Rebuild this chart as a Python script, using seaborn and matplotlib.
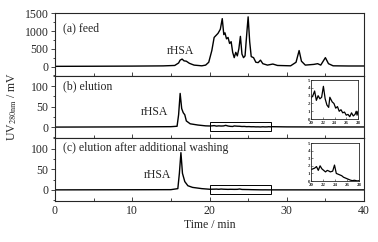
import numpy as np
import pandas as pd
import matplotlib
matplotlib.use("Agg")
import matplotlib.pyplot as plt
import seaborn as sns
from matplotlib.patches import Rectangle
from matplotlib.ticker import MultipleLocator

# (a) feed
t_feed = [0, 5, 10, 14, 15.5, 16.0, 16.2, 16.45, 16.7, 17.0, 17.4, 18, 19, 19.5, 19.9,
          20.3, 20.6, 21.1, 21.4, 21.65, 21.85, 22.0, 22.2, 22.4, 22.6, 22.8, 23.0, 23.2,
          23.4, 23.6, 23.8, 24.0, 24.2, 24.4, 24.6, 24.85, 25.0, 25.2, 25.4, 25.7, 26.0,
          26.3, 26.6, 26.9, 27.5, 28.2, 28.8, 30.5, 31.2, 31.6, 31.9, 32.4, 33.5, 34.0,
          34.4, 35.0, 35.4, 36, 38, 40]
uv_feed = [5, 8, 12, 18, 30, 100, 180, 210, 160, 150, 90, 40, 20, 40, 120,
           450, 820, 935, 1050, 1350, 900, 950, 780, 820, 650, 700, 400, 250,
           400, 300, 500, 850, 350, 250, 300, 1000, 1400, 700, 280, 250, 120,
           110, 180, 80, 40, 70, 30, 20, 120, 450, 150, 40, 60, 80,
           40, 250, 80, 20, 15, 15]

# insets, 20-28 min
t_zoom = [20.0, 20.3, 20.6, 20.9, 21.2, 21.5, 21.8, 22.1, 22.4, 22.7, 23.0, 23.2, 23.6,
          23.9, 24.2, 24.5, 24.8, 25.1, 25.4, 25.7, 26.0, 26.3, 26.6, 26.9, 27.2, 27.5,
          27.7, 27.85, 28.0]
uv_zoom_b = [2.7, 3.0, 3.6, 2.4, 3.0, 2.6, 2.8, 4.2, 2.6, 1.8, 1.5, 2.8, 2.2,
             2.0, 1.4, 1.6, 1.0, 1.2, 0.8, 0.9, 0.5, 0.6, 0.3, 0.8, 0.4, 0.6,
             1.0, 0.5, 1.0]
uv_zoom_c = [1.5, 1.6, 1.7, 1.9, 1.4, 2.0, 1.6, 1.4, 1.2, 1.4, 1.3, 1.2, 1.3,
             2.1, 1.0, 0.9, 0.8, 0.7, 0.5, 0.4, 0.3, 0.2, 0.1, 0.05, 0.1, 0.05,
             0.0, 0.05, 0.0]

# (b) elution / (c) elution after additional washing, outside the inset range
t_b_pre = [0, 10, 15, 15.8, 16.0, 16.2, 16.4, 16.6, 16.8, 17.0, 17.5, 18.5, 19.5]
uv_b_pre = [0, 0.5, 1, 2, 30, 82, 45, 35, 30, 15, 8, 5, 3]
t_c_pre = [0, 10, 15, 15.9, 16.1, 16.3, 16.5, 16.8, 17.2, 17.8, 19]
uv_c_pre = [0, 0.3, 0.5, 3, 40, 90, 40, 20, 10, 6, 3]
t_post = [30, 35, 40]
uv_b_post = [0.5, 0.3, 0.3]
uv_c_post = [0, 0, 0]

feed = pd.DataFrame({"t": t_feed, "uv": uv_feed})
elu_b = pd.DataFrame({"t": t_b_pre + t_zoom + t_post, "uv": uv_b_pre + uv_zoom_b + uv_b_post})
elu_c = pd.DataFrame({"t": t_c_pre + t_zoom + t_post, "uv": uv_c_pre + uv_zoom_c + uv_c_post})
zoom_b = pd.DataFrame({"t": t_zoom, "uv": uv_zoom_b})
zoom_c = pd.DataFrame({"t": t_zoom, "uv": uv_zoom_c})

sns.set_style("ticks")
plt.rcParams["font.family"] = ["Liberation Serif", "DejaVu Serif"]
plt.rcParams["mathtext.fontset"] = "stix"

fig = plt.figure(figsize=(3.78, 2.42), dpi=100)
gs = fig.add_gridspec(3, 1, left=0.1455, right=0.963, top=0.945, bottom=0.171, hspace=0)
axes = [fig.add_subplot(gs[i]) for i in range(3)]

lw = 1.0
sns.lineplot(data=feed, x="t", y="uv", ax=axes[0], color="black", lw=lw)
sns.lineplot(data=elu_b, x="t", y="uv", ax=axes[1], color="black", lw=lw)
sns.lineplot(data=elu_c, x="t", y="uv", ax=axes[2], color="black", lw=lw)

ylims = [(-260, 1500), (-27, 125), (-26, 125)]
for i, ax in enumerate(axes):
    ax.set_xlim(0, 40)
    ax.set_ylim(*ylims[i])
    ax.set_xlabel("")
    ax.set_ylabel("")
    for s in ax.spines.values():
        s.set_linewidth(0.8)
        s.set_visible(True)
    ax.xaxis.set_major_locator(MultipleLocator(10))
    ax.xaxis.set_minor_locator(MultipleLocator(5))
    ax.tick_params(axis="x", which="both", direction="in", labelsize=8.5, width=0.6)
    ax.tick_params(axis="x", which="major", length=3)
    ax.tick_params(axis="x", which="minor", length=2)
    ax.tick_params(axis="y", which="both", direction="out", labelsize=8.5, width=0.6, pad=1.5)
    ax.tick_params(axis="y", which="major", length=3)
    ax.tick_params(axis="y", which="minor", length=1.5)
    if i < 2:
        ax.tick_params(axis="x", labelbottom=False)

axes[0].set_yticks([0, 500, 1000, 1500])
axes[0].yaxis.set_minor_locator(MultipleLocator(250))
for ax in axes[1:]:
    ax.set_yticks([0, 50, 100])
    ax.yaxis.set_minor_locator(MultipleLocator(25))

fs = 8.5
axes[0].text(1.0, 1080, "(a) feed", fontsize=fs, va="center")
axes[0].text(16.2, 450, "rHSA", fontsize=fs, ha="center", va="center")
axes[1].text(1.0, 99, "(b) elution", fontsize=fs, va="center")
axes[1].text(12.9, 37, "rHSA", fontsize=fs, ha="center", va="center")
axes[2].text(1.0, 102, "(c) elution after additional washing", fontsize=fs, va="center")
axes[2].text(13.3, 37, "rHSA", fontsize=fs, ha="center", va="center")

for ax in axes[1:]:
    ax.add_patch(Rectangle((20, -10), 8, 22, fill=False, ec="black", lw=0.7))

axes[2].set_xlabel("Time / min", fontsize=fs, labelpad=1)
fig.text(0.032, 0.56, "UV$_{\\mathrm{280nm}}$ / mV", rotation=90, fontsize=fs,
         ha="center", va="center")

inset_pos = [(0.823, 0.508, 0.124, 0.161), (0.823, 0.252, 0.127, 0.157)]
for pos, d in zip(inset_pos, [zoom_b, zoom_c]):
    ins = fig.add_axes(pos)
    sns.lineplot(data=d, x="t", y="uv", ax=ins, color="black", lw=0.9)
    ins.set_xlim(20, 28)
    ins.set_ylim(0, 5)
    ins.set_xticks([20, 22, 24, 26, 28])
    ins.set_yticks([0, 1, 2, 3, 4, 5])
    ins.set_xlabel("")
    ins.set_ylabel("")
    for s in ins.spines.values():
        s.set_linewidth(0.6)
    ins.tick_params(which="both", direction="in", length=1.2, width=0.4, labelsize=3.5)
    ins.tick_params(axis="y", pad=0.4)
    ins.tick_params(axis="x", pad=1.3)
    for lab in ins.get_xticklabels() + ins.get_yticklabels():
        lab.set_fontweight("bold")

fig.savefig("out.png", dpi=100)
